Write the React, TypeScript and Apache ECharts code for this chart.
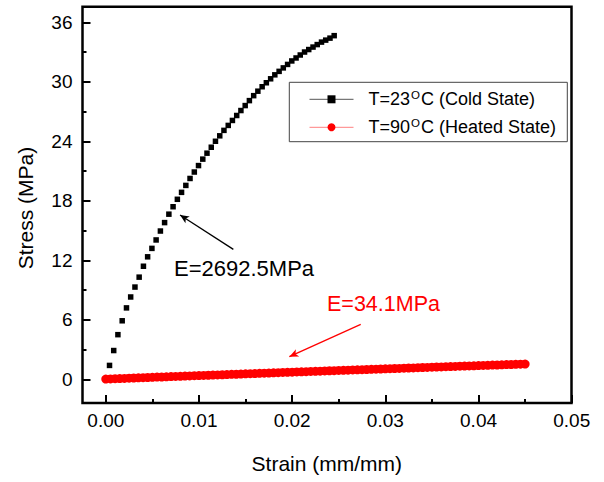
import React, { useEffect, useRef } from "react";
import * as echarts from "echarts";

const FONT = "'Liberation Sans', Arial, sans-serif";

const coldName = "T=23°C (Cold State)";
const hotName = "T=90°C (Heated State)";

const xMajorTicks = [0, 0.01, 0.02, 0.03, 0.04, 0.05];
const xMinorTicks = [0.005, 0.015, 0.025, 0.035, 0.045];
const yMajorTicks = [0, 6, 12, 18, 24, 30, 36];
const yMinorTicks = [3, 9, 15, 21, 27, 33];

const strainCold = [
  0.0004, 0.00085, 0.0013, 0.00176, 0.00222, 0.00267, 0.00313, 0.00358, 0.00404, 0.00449,
  0.00495, 0.0054, 0.00586, 0.00631, 0.00677, 0.00722, 0.00768, 0.00813, 0.00859, 0.00904,
  0.0095, 0.00995, 0.01041, 0.01086, 0.01132, 0.01177, 0.01223, 0.01268, 0.01314, 0.01359,
  0.01405, 0.0145, 0.01496, 0.01541, 0.01587, 0.01632, 0.01678, 0.01723, 0.01769, 0.01814,
  0.0186, 0.01905, 0.01951, 0.01996, 0.02042, 0.02087, 0.02133, 0.02178, 0.02224, 0.02269,
  0.02315, 0.0236, 0.02406, 0.02451,
];
const stressCold = [
  1.4, 2.9, 4.5, 5.9, 7.2, 8.3, 9.3, 10.3, 11.4, 12.35,
  13.2, 14.05, 14.95, 15.8, 16.65, 17.4, 18.15, 18.85, 19.55, 20.25,
  20.9, 21.55, 22.2, 22.8, 23.4, 24.0, 24.55, 25.1, 25.6, 26.1,
  26.6, 27.1, 27.6, 28.1, 28.6, 29.05, 29.5, 29.9, 30.3, 30.7,
  31.05, 31.4, 31.75, 32.1, 32.4, 32.7, 33.0, 33.25, 33.5, 33.75,
  34.0, 34.2, 34.4, 34.65,
];

const strainHot = [
  0, 0.0005, 0.001, 0.0015, 0.002, 0.0025, 0.003, 0.0035, 0.004, 0.0045,
  0.005, 0.0055, 0.006, 0.0065, 0.007, 0.0075, 0.008, 0.0085, 0.009, 0.0095,
  0.01, 0.0105, 0.011, 0.0115, 0.012, 0.0125, 0.013, 0.0135, 0.014, 0.0145,
  0.015, 0.0155, 0.016, 0.0165, 0.017, 0.0175, 0.018, 0.0185, 0.019, 0.0195,
  0.02, 0.0205, 0.021, 0.0215, 0.022, 0.0225, 0.023, 0.0235, 0.024, 0.0245,
  0.025, 0.0255, 0.026, 0.0265, 0.027, 0.0275, 0.028, 0.0285, 0.029, 0.0295,
  0.03, 0.0305, 0.031, 0.0315, 0.032, 0.0325, 0.033, 0.0335, 0.034, 0.0345,
  0.035, 0.0355, 0.036, 0.0365, 0.037, 0.0375, 0.038, 0.0385, 0.039, 0.0395,
  0.04, 0.0405, 0.041, 0.0415, 0.042, 0.0425, 0.043, 0.0435, 0.044, 0.0445,
  0.045,
];
const stressHot = [
  0.02, 0.04, 0.06, 0.07, 0.09, 0.11, 0.13, 0.15, 0.16, 0.18,
  0.2, 0.22, 0.23, 0.25, 0.27, 0.29, 0.3, 0.32, 0.34, 0.36,
  0.38, 0.39, 0.41, 0.43, 0.44, 0.46, 0.48, 0.5, 0.51, 0.53,
  0.55, 0.57, 0.58, 0.6, 0.62, 0.63, 0.65, 0.67, 0.69, 0.7,
  0.72, 0.74, 0.75, 0.77, 0.79, 0.8, 0.82, 0.84, 0.86, 0.87,
  0.89, 0.91, 0.92, 0.94, 0.96, 0.97, 0.99, 1.01, 1.02, 1.04,
  1.06, 1.07, 1.09, 1.1, 1.12, 1.14, 1.15, 1.17, 1.19, 1.2,
  1.22, 1.24, 1.25, 1.27, 1.28, 1.3, 1.32, 1.33, 1.35, 1.36,
  1.38, 1.4, 1.41, 1.43, 1.44, 1.46, 1.48, 1.49, 1.51, 1.52,
  1.54,
];

// annotation arrows (tail -> head), in data coordinates
const coldArrow = [[0.01369, 13.1], [0.00797, 16.57]];
const hotArrow = [[0.02736, 5.54], [0.0197, 2.28]];

export default function App() {
  const ref = useRef<HTMLDivElement>(null);
  useEffect(() => {
    if (!ref.current) return;
    const chart = echarts.init(ref.current, null, { renderer: "svg" });
    const tickStyle = { color: "#000", width: 2 };
    const legendFmt = (name: string) => {
      const i = name.indexOf("°");
      return "{a|" + name.slice(0, i) + "}{s|O}{a|" + name.slice(i + 1) + "}";
    };
    const xRange = { min: -0.0025, max: 0.05 };
    const yRange = { min: -2.39, max: 37.57 };
    const hiddenLine = { show: false, onZero: false };
    chart.setOption({
      animation: false,
      backgroundColor: "#fff",
      textStyle: { fontFamily: FONT },
      grid: { left: 82.5, right: 32.3, top: 6.7, bottom: 79 },
      xAxis: [
        {
          type: "value",
          ...xRange,
          position: "bottom",
          axisLine: hiddenLine,
          axisTick: { inside: true, length: 8, lineStyle: tickStyle, customValues: xMajorTicks },
          splitLine: { show: false },
          axisLabel: {
            customValues: xMajorTicks,
            formatter: (v: number) => v.toFixed(2),
            fontSize: 19,
            color: "#000",
            margin: 8,
            fontFamily: FONT,
          },
        },
        {
          type: "value",
          ...xRange,
          position: "bottom",
          axisLine: hiddenLine,
          axisTick: { inside: true, length: 4, lineStyle: tickStyle, customValues: xMinorTicks },
          splitLine: { show: false },
          axisLabel: { show: false },
        },
      ],
      yAxis: [
        {
          type: "value",
          ...yRange,
          position: "left",
          axisLine: hiddenLine,
          axisTick: { inside: true, length: 8, lineStyle: tickStyle, customValues: yMajorTicks },
          splitLine: { show: false },
          axisLabel: { customValues: yMajorTicks, fontSize: 19, color: "#000", margin: 10, fontFamily: FONT },
        },
        {
          type: "value",
          ...yRange,
          position: "left",
          axisLine: hiddenLine,
          axisTick: { inside: true, length: 4, lineStyle: tickStyle, customValues: yMinorTicks },
          splitLine: { show: false },
          axisLabel: { show: false },
        },
      ],
      legend: {
        orient: "vertical",
        left: 309,
        top: 89.3,
        padding: 0,
        itemWidth: 44,
        itemHeight: 10,
        itemGap: 8,
        formatter: legendFmt,
        data: [
          { name: coldName, lineStyle: { opacity: 1, color: "#555", width: 1 } },
          { name: hotName, lineStyle: { opacity: 1, color: "#ff8080", width: 1 } },
        ],
        textStyle: {
          fontSize: 18,
          lineHeight: 20,
          color: "#000",
          fontFamily: FONT,
          padding: [0, 0, 0, 10],
          rich: {
            a: { fontSize: 18, lineHeight: 20, fontFamily: FONT, color: "#000" },
            s: { fontSize: 11.5, lineHeight: 20, fontFamily: FONT, color: "#000", verticalAlign: "top", padding: [0, 1, 0, 1] },
          },
        },
      },
      series: [
        {
          name: coldName,
          type: "line",
          clip: false,
          data: strainCold.map((x, i) => [x, stressCold[i]]),
          symbol: "rect",
          symbolSize: 5.5,
          itemStyle: { color: "#000" },
          lineStyle: { color: "#000", width: 1, opacity: 0 },
          markLine: {
            silent: true,
            symbol: ["none", "arrow"],
            symbolSize: [6, 9],
            label: { show: false },
            lineStyle: { color: "#000", width: 1.3, type: "solid" },
            data: [[{ coord: coldArrow[0] }, { coord: coldArrow[1] }]],
          },
        },
        {
          name: hotName,
          type: "line",
          clip: false,
          data: strainHot.map((x, i) => [x, stressHot[i]]),
          symbol: "circle",
          symbolSize: 9,
          itemStyle: { color: "#ff0000" },
          lineStyle: { color: "#ff0000", width: 1, opacity: 0 },
          markLine: {
            silent: true,
            symbol: ["none", "arrow"],
            symbolSize: [6, 9],
            label: { show: false },
            lineStyle: { color: "#ff0000", width: 1.3, type: "solid" },
            data: [[{ coord: hotArrow[0] }, { coord: hotArrow[1] }]],
          },
        },
      ],
      graphic: [
        {
          type: "rect",
          silent: true,
          z: 10,
          shape: { x: 82.5, y: 6.7, width: 489, height: 396.3 },
          style: { fill: "none", stroke: "#000", lineWidth: 2.5 },
        },
        {
          type: "rect",
          silent: true,
          z: 10,
          shape: { x: 289.3, y: 82.3, width: 278, height: 59.4 },
          style: { fill: "none", stroke: "#444", lineWidth: 1 },
        },
        {
          type: "text",
          x: 174,
          y: 268.7,
          style: { text: "E=2692.5MPa", fill: "#000", fontSize: 22, fontFamily: FONT, verticalAlign: "middle", align: "left" },
        },
        {
          type: "text",
          x: 327,
          y: 304,
          style: { text: "E=34.1MPa", fill: "#ff0000", fontSize: 21.5, fontFamily: FONT, verticalAlign: "middle", align: "left" },
        },
        {
          type: "text",
          x: 326.8,
          y: 463,
          style: { text: "Strain (mm/mm)", fill: "#000", fontSize: 21, fontFamily: FONT, verticalAlign: "middle", align: "center" },
        },
        {
          type: "text",
          x: 25,
          y: 208,
          rotation: Math.PI / 2,
          style: { text: "Stress (MPa)", fill: "#000", fontSize: 21, fontFamily: FONT, verticalAlign: "middle", align: "center" },
        },
      ],
    });
    return () => chart.dispose();
  }, []);
  return (
    <div
      ref={ref}
      style={{ position: "absolute", left: 0, top: 0, width: 604, height: 482 }}
    />
  );
}
